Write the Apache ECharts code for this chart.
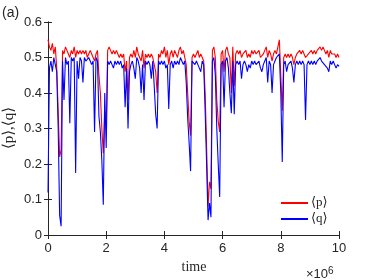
<!DOCTYPE html>
<html><head><meta charset="utf-8">
<script src="https://cdn.jsdelivr.net/npm/echarts@6/dist/echarts.min.js"></script>
<style>html,body{margin:0;padding:0;background:#fff}#c{width:374px;height:280px}</style>
</head><body><div id="c"></div>
<script>
// time grid in units of 1e6 (sample step 0.05e6)
const timeStep = 0.05;
const xTicks = [0, 2, 4, 6, 8, 10];
const yTicks = [0, 0.1, 0.2, 0.3, 0.4, 0.5, 0.6];
const seriesNames = ['⟨p⟩', '⟨q⟩'];
const pValues = [
.55,.53,.52,.54,.51,.53,.47,.35,.22,.24,
.52,.51,.53,.52,.51,.50,.52,.51,.53,.50,
.52,.51,.52,.51,.52,.51,.52,.50,.51,.52,
.51,.50,.49,.51,.52,.45,.40,.30,.23,.35,
.30,.52,.53,.52,.51,.52,.51,.52,.51,.50,
.51,.50,.51,.46,.49,.38,.50,.51,.50,.52,
.50,.53,.51,.50,.49,.52,.47,.51,.50,.51,
.50,.51,.50,.48,.46,.40,.51,.50,.52,.51,
.53,.50,.52,.48,.51,.52,.50,.52,.51,.50,
.52,.53,.51,.52,.50,.48,.40,.32,.28,.50,
.51,.50,.51,.52,.50,.51,.50,.49,.40,.25,
.08,.15,.13,.52,.53,.50,.38,.32,.29,.51,
.52,.46,.52,.53,.51,.50,.40,.53,.42,.51,
.52,.51,.52,.50,.51,.51,.52,.50,.51,.50,
.52,.51,.52,.51,.51,.52,.50,.50,.51,.52,
.53,.50,.52,.51,.49,.51,.52,.51,.53,.55,
.45,.35,.50,.51,.50,.51,.50,.51,.50,.48,
.50,.51,.51,.52,.51,.52,.51,.50,.50,.51,
.51,.52,.51,.52,.51,.52,.52,.53,.52,.53,
.52,.51,.52,.50,.52,.51,.51,.51,.50,.51,
.50];
const qValues = [
.12,.47,.49,.46,.50,.48,.46,.30,.055,.025,
.49,.38,.50,.48,.49,.315,.50,.49,.50,.175,
.49,.44,.50,.49,.43,.50,.49,.49,.50,.49,
.48,.49,.29,.50,.49,.335,.29,.21,.085,.40,
.245,.49,.48,.49,.48,.47,.49,.48,.49,.48,
.49,.47,.48,.36,.47,.30,.46,.48,.49,.47,
.44,.50,.49,.47,.40,.48,.38,.49,.48,.49,
.48,.44,.49,.42,.34,.30,.49,.48,.49,.48,
.49,.47,.48,.355,.48,.49,.47,.49,.48,.49,
.48,.50,.49,.48,.49,.43,.33,.26,.18,.49,
.49,.48,.49,.48,.47,.46,.49,.48,.35,.20,
.042,.09,.05,.49,.50,.45,.30,.20,.107,.48,
.49,.36,.49,.50,.47,.40,.343,.49,.34,.48,
.49,.48,.49,.44,.48,.49,.48,.46,.48,.47,
.49,.48,.49,.48,.48,.49,.47,.46,.48,.49,
.50,.43,.49,.48,.40,.48,.49,.50,.50,.51,
.40,.206,.48,.49,.46,.48,.48,.49,.47,.43,
.48,.49,.48,.49,.48,.49,.48,.324,.48,.49,
.48,.49,.48,.49,.48,.49,.49,.50,.49,.49,
.48,.48,.47,.46,.49,.48,.49,.48,.47,.48,
.475];

const toPairs = arr => arr.map((v, i) => [+(i * timeStep * 1e6).toFixed(0), v]);
const axisCol = '#262626';
const sans = 'Liberation Sans, Arial, Helvetica, sans-serif';
const serif = 'Liberation Serif, DejaVu Serif, Times New Roman, serif';

const chart = echarts.init(document.getElementById('c'), null, {renderer: 'canvas'});
const baseX = {
  type: 'value', min: 0, max: 1e7, interval: 2e6,
  axisLine: {show: true, lineStyle: {color: axisCol, width: 1}},
  axisTick: {show: true, inside: true, length: 4, lineStyle: {color: axisCol}},
  splitLine: {show: false}
};
const baseY = {
  type: 'value', min: 0, max: 0.6, interval: 0.1,
  axisLine: {show: true, lineStyle: {color: axisCol, width: 1}},
  axisTick: {show: true, inside: true, length: 4, lineStyle: {color: axisCol}},
  splitLine: {show: false}
};
chart.setOption({
  animation: false,
  grid: {left: 48, right: 35, top: 22, bottom: 45},
  xAxis: [
    Object.assign({}, baseX, {position: 'bottom',
      axisLabel: {color: axisCol, fontSize: 13, fontFamily: sans, margin: 7,
        formatter: v => xTicks.includes(v / 1e6) ? String(v / 1e6) : ''}}),
    Object.assign({}, baseX, {position: 'top', axisLabel: {show: false}})
  ],
  yAxis: [
    Object.assign({}, baseY, {position: 'left',
      axisLabel: {color: axisCol, fontSize: 13, fontFamily: sans, margin: 6,
        formatter: v => { const t = yTicks.find(y => Math.abs(y - v) < 1e-9); return t === undefined ? '' : String(t); }}}),
    Object.assign({}, baseY, {position: 'right', axisLabel: {show: false}})
  ],
  legend: {
    orient: 'vertical', left: 276, top: 191, itemWidth: 27, itemHeight: 2, itemGap: 2,
    icon: 'rect',
    textStyle: {fontFamily: serif, fontSize: 13, color: axisCol, lineHeight: 14, padding: [0,0,0,-2]},
    data: seriesNames
  },
  series: [
    {name: seriesNames[0], type: 'line', data: toPairs(pValues), showSymbol: false, symbol: 'none',
     lineStyle: {color: '#ff0000', width: 1.1}, itemStyle: {color: '#ff0000'}, z: 2},
    {name: seriesNames[1], type: 'line', data: toPairs(qValues), showSymbol: false, symbol: 'none',
     lineStyle: {color: '#0000ff', width: 1.1}, itemStyle: {color: '#0000ff'}, z: 3}
  ],
  graphic: [
    {type: 'text', left: 2, top: 6, style: {text: '(a)', font: '14px ' + sans, fill: axisCol}},
    {type: 'text', x: 9, y: 128, rotation: Math.PI / 2,
     style: {text: '⟨p⟩,⟨q⟩', font: '15px ' + serif, fill: axisCol, align: 'center', verticalAlign: 'middle'}},
    {type: 'text', x: 194, y: 267,
     style: {text: 'time', font: '14px ' + serif, fill: axisCol, align: 'center', verticalAlign: 'middle'}},
    {type: 'text', x: 306, y: 266,
     style: {text: '×10{s|6}', font: '13px ' + sans, fill: axisCol,
       rich: {s: {fontSize: 10, fontFamily: sans, verticalAlign: 'top', padding: [0,0,6,0]}}}}
  ]
});
</script></body></html>
